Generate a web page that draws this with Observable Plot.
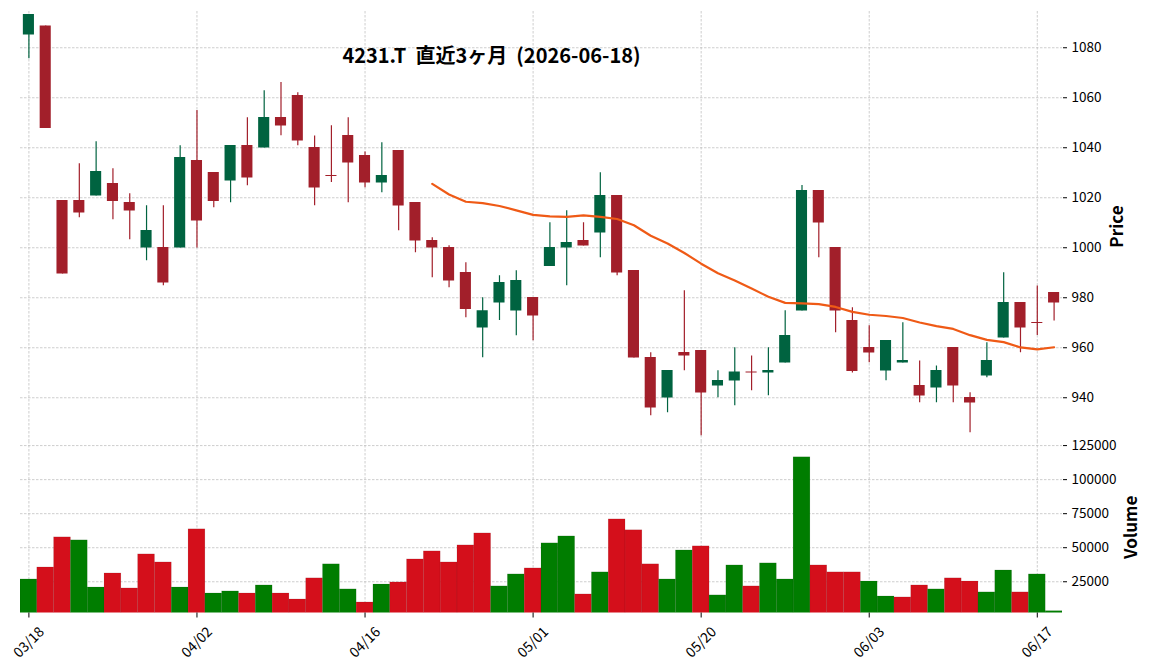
<!DOCTYPE html>
<html>
<head>
<meta charset="utf-8">
<script src="https://cdn.jsdelivr.net/npm/d3@7"></script>
<script src="https://cdn.jsdelivr.net/npm/@observablehq/plot@0.6"></script>
<style>
  html, body { margin: 0; padding: 0; background: #fff; }
  #chart { position: relative; width: 1152px; height: 670px; overflow: hidden;
           font-family: "Noto Sans CJK JP", "Noto Sans", sans-serif; }
  #chart svg { position: absolute; left: 0; overflow: visible; }
  #chart text { white-space: pre; }
</style>
</head>
<body>
<div id="chart"></div>
<script>
// ---- data ----
const dates = ["03/18","03/19","03/23","03/24","03/25","03/26","03/27","03/30","03/31","04/01",
  "04/02","04/03","04/06","04/07","04/08","04/09","04/10","04/13","04/14","04/15",
  "04/16","04/17","04/20","04/21","04/22","04/23","04/24","04/27","04/28","04/30",
  "05/01","05/07","05/08","05/11","05/12","05/13","05/14","05/15","05/18","05/19",
  "05/20","05/21","05/22","05/25","05/26","05/27","05/28","05/29","06/01","06/02",
  "06/03","06/04","06/05","06/08","06/09","06/10","06/11","06/12","06/15","06/16",
  "06/17","06/18"];
const opens = [1085.1,1088.7,1018.9,1018.9,1020.7,1025.7,1018.1,999.9,1000.1,999.9,
  1034.9,1030.1,1026.7,1040.9,1039.9,1052.1,1060.9,1040.1,1028.9,1044.9,
  1036.9,1025.9,1038.9,1018.1,1002.9,1000.1,990.1,967.9,977.9,974.7,
  980.1,992.5,999.9,1002.9,1005.9,1020.9,990.9,956.1,939.9,958.1,
  958.9,944.7,946.7,950.3,949.9,953.9,974.7,1022.9,1000.1,970.9,
  960.1,950.7,953.9,944.9,943.9,960.1,940.1,948.7,963.9,978.1,
  970.1,982.1];
const highs = [1093.3,1088.7,1018.9,1033.6,1042.4,1031.6,1021.6,1016.8,1016.8,1040.8,
  1054.9,1030.1,1040.9,1052.0,1062.8,1066.1,1062.0,1044.7,1048.8,1052.0,
  1038.3,1042.0,1038.9,1018.1,1004.0,1000.8,994.0,980.0,988.8,990.8,
  980.1,1010.0,1014.8,1010.0,1030.0,1020.9,990.9,958.0,950.9,982.8,
  958.9,950.8,960.0,956.7,960.0,974.8,1024.9,1022.9,1000.1,976.0,
  968.8,962.9,970.0,954.7,952.7,960.1,942.0,962.0,990.0,978.1,
  984.7,982.1];
const lows = [1075.6,1047.7,989.5,1012.0,1020.7,1011.2,1003.2,994.8,984.8,999.9,
  999.9,1016.0,1018.0,1024.8,1039.9,1044.8,1040.8,1016.8,1026.1,1018.0,
  1024.0,1022.0,1006.8,998.0,988.0,984.0,972.0,956.0,970.9,964.8,
  962.8,992.5,984.8,1000.7,996.0,988.8,955.9,932.8,934.0,950.8,
  924.8,940.0,936.8,942.8,940.8,953.9,974.7,996.0,966.0,949.9,
  954.0,946.8,953.9,938.0,938.0,938.0,926.0,948.0,963.9,958.0,
  964.9,970.7];
const closes = [1093.3,1047.7,989.5,1013.9,1030.5,1018.5,1014.7,1006.9,985.9,1036.1,
  1010.7,1018.5,1040.9,1027.9,1052.1,1048.7,1042.7,1023.9,1028.7,1033.9,
  1025.9,1028.9,1016.7,1002.7,999.9,986.7,975.3,974.8,986.1,986.9,
  972.7,1000.1,1002.1,1000.7,1020.9,989.9,955.9,935.9,950.9,956.7,
  941.9,946.9,950.3,950.1,950.9,964.9,1022.9,1009.9,974.7,950.5,
  957.9,962.9,954.9,940.7,950.9,944.7,937.9,954.9,978.1,967.9,
  969.9,977.9];
const volumes = [26700,35500,57600,55400,20800,31100,20100,45100,39200,20800,
  63500,16400,17900,16400,22300,16400,12000,27500,37800,19400,
  9800,23000,24500,41400,47300,39200,51700,60500,21600,30400,
  34800,53200,58300,15700,31900,70800,62800,37800,26700,48000,
  51000,15000,37000,21600,38500,26700,116400,37000,31900,31900,
  25200,14200,13500,22300,19400,27500,25200,17200,33300,17200,
  30400,3400];
const title = "4231.T  直近3ヶ月  (2026-06-18)";
const priceTicks = [940, 960, 980, 1000, 1020, 1040, 1060, 1080];
const volumeTicks = [25000, 50000, 75000, 100000, 125000];
const xTickIndex = [0, 10, 20, 30, 40, 50, 60];
const maWindow = 25;

// ---- styles ----
const UP = "#006340", DOWN = "#a21f2a";
const VUP = "#007d00", VDOWN = "#d40f1b";
const MA = "#ef5a16", GRID = "#c2c2c2";
const FONT = '"Noto Sans CJK JP", "Noto Sans", sans-serif';

const rows = dates.map((date, i) => ({
  i, date, open: opens[i], high: highs[i], low: lows[i], close: closes[i], volume: volumes[i],
  up: closes[i] >= opens[i],
  vup: i === 0 ? closes[i] >= opens[i] : closes[i] >= closes[i - 1]
}));

const W = 1152, ML = 20, MR = 90;
const xDomain = [-0.5, dates.length - 0.5];
const gridOpts = {stroke: GRID, strokeOpacity: 1, strokeWidth: 0.8, strokeDasharray: "2.5,1.5"};

const price = Plot.plot({
  width: W, height: 441,
  marginLeft: ML, marginRight: MR, marginTop: 11, marginBottom: 0,
  style: {fontFamily: FONT, fontSize: "13px", background: "transparent", color: "#000"},
  x: {domain: xDomain, axis: null},
  y: {domain: [922.5, 1094.5], axis: null},
  color: {type: "identity"},
  marks: [
    Plot.gridY(priceTicks, gridOpts),
    Plot.gridX(xTickIndex, gridOpts),
    Plot.axisY(priceTicks, {anchor: "right", tickSize: 4, tickPadding: 5, fontSize: 13.5,
      tickFormat: d => String(d), label: null}),
    Plot.ruleX(rows, {x: "i", y1: "low", y2: "high", stroke: d => d.up ? UP : DOWN, strokeWidth: 1.2}),
    Plot.rect(rows, {
      x1: d => d.i - 0.33, x2: d => d.i + 0.33,
      y1: d => Math.max(d.open, d.close),
      y2: d => Math.abs(d.open - d.close) < 0.4 ? Math.max(d.open, d.close) - 0.4 : Math.min(d.open, d.close),
      fill: d => d.up ? UP : DOWN
    }),
    Plot.lineY(rows, Plot.windowY(
      {k: maWindow, anchor: "end", strict: true, reduce: V => V.length < maWindow ? NaN : d3.mean(V)},
      {x: "i", y: "close", stroke: MA, strokeWidth: 2.2, curve: "linear"})),
    Plot.text([title], {text: d => d, frameAnchor: "top-left", dx: 471, dy: 45,
      textAnchor: "middle", lineAnchor: "middle", fontSize: 20, fontWeight: "bold", fill: "#000"}),
    Plot.text(["Price"], {text: d => d, frameAnchor: "right", dx: 55.5, rotate: -90,
      textAnchor: "middle", lineAnchor: "middle", fontSize: 17, fontWeight: "bold", fill: "#000"})
  ]
});

const vol = Plot.plot({
  width: W, height: 229,
  marginLeft: ML, marginRight: MR, marginTop: 0, marginBottom: 57.5,
  style: {fontFamily: FONT, fontSize: "13px", background: "transparent", color: "#000"},
  x: {domain: xDomain, axis: null},
  y: {domain: [2060, 128000], axis: null},
  color: {type: "identity"},
  marks: [
    Plot.gridY(volumeTicks, gridOpts),
    Plot.gridX(xTickIndex, gridOpts),
    Plot.axisY(volumeTicks, {anchor: "right", tickSize: 4, tickPadding: 5, fontSize: 13.5,
      tickFormat: d3.format("d"), label: null}),
    Plot.rectY(rows, {x1: d => d.i - 0.5, x2: d => d.i + 0.5, y: "volume",
      fill: d => d.vup ? VUP : VDOWN, stroke: "#000", strokeOpacity: 0.12, strokeWidth: 0.6, clip: true}),
    Plot.axisX(xTickIndex, {anchor: "bottom", tickSize: 5, tickFormat: () => "", label: null}),
    Plot.text(xTickIndex, {x: d => d, text: d => dates[d], frameAnchor: "bottom", dy: 29.5, rotate: -45,
      textAnchor: "middle", lineAnchor: "middle", fontSize: 14, fill: "#000"}),
    Plot.text(["Volume"], {text: d => d, frameAnchor: "right", dx: 69.5, rotate: -90,
      textAnchor: "middle", lineAnchor: "middle", fontSize: 17, fontWeight: "bold", fill: "#000"})
  ]
});

const root = document.getElementById("chart");
price.style.top = "0px";
vol.style.top = "441px";
root.appendChild(price);
root.appendChild(vol);
</script>
</body>
</html>
